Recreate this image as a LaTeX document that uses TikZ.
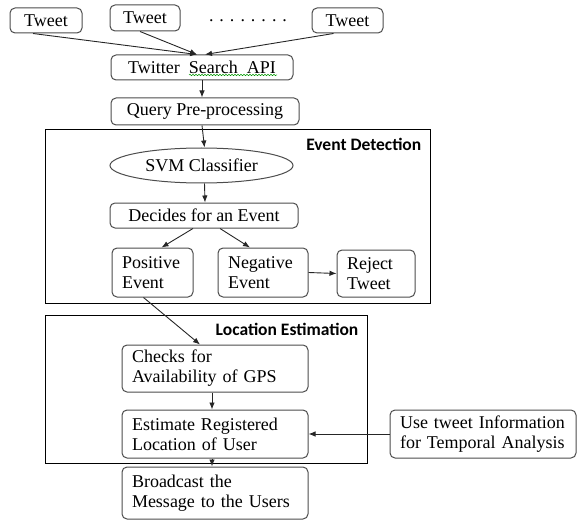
\documentclass[tikz,border=0pt]{standalone}
\usepackage{fontspec}
\setmainfont{Liberation Serif}
\newfontfamily\labfont{Carlito}
\usepackage{tikz}
\usetikzlibrary{arrows.meta,positioning,shapes.geometric,decorations.pathmorphing}
\tikzset{
  procv/.style={rectangle,rounded corners=5pt,draw=black!70,line width=1pt,inner sep=0pt,font=\fontsize{18}{20}\selectfont},
  procl/.style={procv,align=left,inner xsep=10pt},
  clsv/.style={ellipse,draw=black!70,line width=1pt,inner sep=0pt,font=\fontsize{18}{20}\selectfont},
  framev/.style={rectangle,draw=black,line width=1pt,inner sep=0pt},
  flab/.style={anchor=north east,inner sep=0pt,font={\labfont\bfseries\fontsize{17.5}{19}\selectfont}},
  flow/.style={line width=.9pt,black!85,-{Latex[length=7pt,width=5.5pt]}},
  spell/.style={green!60!black,line width=.5pt,decorate,decoration={snake,amplitude=.7pt,segment length=3pt}},
  dots/.style={font=\fontsize{18}{20}\selectfont,inner sep=0pt}
}
\begin{document}
\begin{tikzpicture}[x=1pt,y=-1pt]
  \useasboundingbox (0,0) rectangle (577,521);
  % frames
  \node[framev,minimum width=385pt,minimum height=173pt] (evt) at (237.5,216.5) {};
  \node[flab] (evlab) at ([shift={(-9,8)}]evt.north east) {Event Detection};
  \node[framev,minimum width=322pt,minimum height=148pt] (loc) at (206,389) {};
  \node[flab] (loclab) at ([shift={(-9,8)}]loc.north east) {Location Estimation};
  % tweets
  \node[procv,minimum width=72pt,minimum height=25pt] (t1) at (46,20.5) {Tweet};
  \node[procv,minimum width=70pt,minimum height=26pt] (t2) at (145,18) {Tweet};
  \node[dots] (dd) at (248,21) {. . . . . . . .};
  \node[procv,minimum width=71pt,minimum height=25pt] (t3) at (347.5,20.5) {Tweet};
  \node[procv,minimum width=182pt,minimum height=25pt] (api) at (202,67.5) {Twitter~~Search~~API};
  \draw[spell] ([shift={(-13,7.5)}]api.center) -- ([shift={(75,7.5)}]api.center);
  \node[procv,minimum width=188pt,minimum height=27pt] (qry) at (205,111.5) {Query Pre-processing};
  % event detection
  \node[clsv,minimum width=183pt,minimum height=35pt] (svm) at (201.5,165.5) {SVM Classifier};
  \node[procv,minimum width=188pt,minimum height=25pt] (dec) at (204,215.5) {Decides for an Event};
  \node[procl,text width=61pt,minimum height=49pt] (pos) at (152.5,272.5) {Positive\\Event};
  \node[procl,text width=70pt,minimum height=49pt] (neg) at (263,272.5) {Negative\\Event};
  \node[procl,text width=58pt,minimum height=47pt] (rej) at (376,273.5) {Reject\\Tweet};
  % location estimation
  \node[procl,text width=166pt,minimum height=47pt] (chk) at (215,368.5) {Checks for\\Availability of GPS};
  \node[procl,text width=166pt,minimum height=48pt] (est) at (215,434) {Estimate Registered\\Location of User};
  \node[procl,text width=166pt,minimum height=48pt] (use) at (483,434) {Use tweet Information\\for Temporal Analysis};
  \node[procl,text width=166pt,minimum height=52pt] (brd) at (215,493) {Broadcast the\\Message to the Users};
  % connectors
  \draw[flow] ([xshift=-13pt]t1.south) -- ([xshift=-5pt]api.north);
  \draw[flow] ([xshift=-5pt]t2.south) -- ([xshift=-5pt]api.north);
  \draw[flow] ([xshift=-14pt]t3.south) -- ([xshift=3pt]api.north);
  \draw[flow] (api.south) -- ([xshift=-3pt]qry.north);
  \draw[flow] ([xshift=-3pt]qry.south) -- ([xshift=3pt]svm.north);
  \draw[flow] ([xshift=3pt]svm.south) -- ([xshift=1pt]dec.north);
  \draw[flow] ([xshift=-11pt]dec.south) -- ([xshift=9pt]pos.north);
  \draw[flow] ([xshift=16pt]dec.south) -- ([xshift=-13pt]neg.north);
  \draw[flow] (neg.east) -- (rej.west);
  \draw[flow] ([xshift=-9pt]pos.south) -- ([xshift=-15pt]chk.north);
  \draw[flow] ([xshift=-3pt]chk.south) -- ([xshift=-3pt]est.north);
  \draw[flow] (use.west) -- (est.east);
  \draw[flow] ([xshift=-3pt]est.south) -- ([xshift=-3pt]brd.north);
\end{tikzpicture}
\end{document}
